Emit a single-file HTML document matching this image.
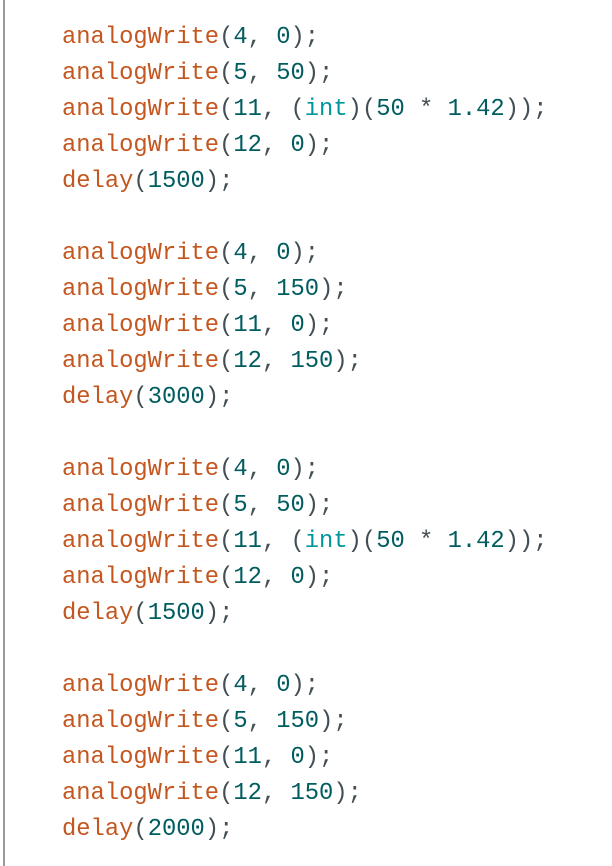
<!DOCTYPE html>
<html><head><style>
html,body{margin:0;padding:0;background:#fff;width:612px;height:866px;overflow:hidden}
.b{position:absolute;left:3px;top:0;width:2px;height:866px;background:#9a9a9a}
pre{position:absolute;left:62px;top:20px;margin:0;font-family:"Liberation Mono",monospace;font-size:23.8px;line-height:36px;color:#434f54}
.f{color:#c4561f}.n{color:#005c5f}.t{color:#00979c}
</style></head><body><div class="b"></div>
<pre><span class="f">analogWrite</span>(<span class="n">4</span>, <span class="n">0</span>);
<span class="f">analogWrite</span>(<span class="n">5</span>, <span class="n">50</span>);
<span class="f">analogWrite</span>(<span class="n">11</span>, (<span class="t">int</span>)(<span class="n">50</span> * <span class="n">1.42</span>));
<span class="f">analogWrite</span>(<span class="n">12</span>, <span class="n">0</span>);
<span class="f">delay</span>(<span class="n">1500</span>);

<span class="f">analogWrite</span>(<span class="n">4</span>, <span class="n">0</span>);
<span class="f">analogWrite</span>(<span class="n">5</span>, <span class="n">150</span>);
<span class="f">analogWrite</span>(<span class="n">11</span>, <span class="n">0</span>);
<span class="f">analogWrite</span>(<span class="n">12</span>, <span class="n">150</span>);
<span class="f">delay</span>(<span class="n">3000</span>);

<span class="f">analogWrite</span>(<span class="n">4</span>, <span class="n">0</span>);
<span class="f">analogWrite</span>(<span class="n">5</span>, <span class="n">50</span>);
<span class="f">analogWrite</span>(<span class="n">11</span>, (<span class="t">int</span>)(<span class="n">50</span> * <span class="n">1.42</span>));
<span class="f">analogWrite</span>(<span class="n">12</span>, <span class="n">0</span>);
<span class="f">delay</span>(<span class="n">1500</span>);

<span class="f">analogWrite</span>(<span class="n">4</span>, <span class="n">0</span>);
<span class="f">analogWrite</span>(<span class="n">5</span>, <span class="n">150</span>);
<span class="f">analogWrite</span>(<span class="n">11</span>, <span class="n">0</span>);
<span class="f">analogWrite</span>(<span class="n">12</span>, <span class="n">150</span>);
<span class="f">delay</span>(<span class="n">2000</span>);</pre>
</body></html>
